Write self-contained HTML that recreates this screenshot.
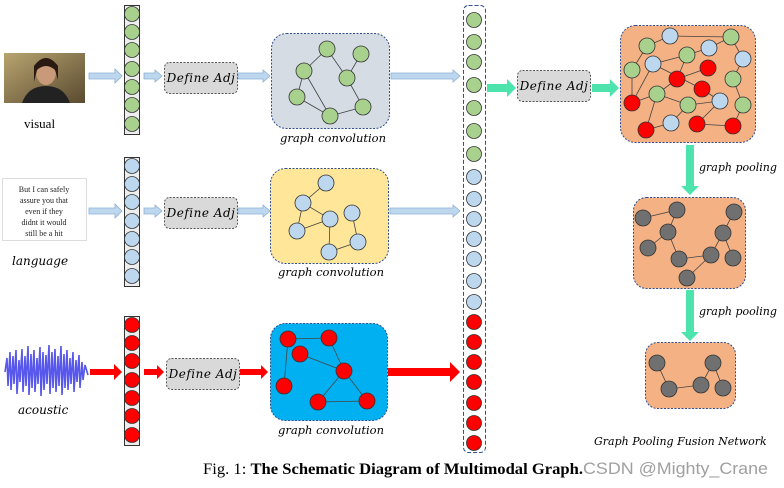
<!DOCTYPE html>
<html><head><meta charset="utf-8"><style>
html,body{margin:0;padding:0;background:#fff;}
svg{display:block}
.it{font-family:"DejaVu Serif","Liberation Serif",serif;font-style:italic;}
</style></head><body>
<svg width="784" height="488" viewBox="0 0 784 488" xmlns="http://www.w3.org/2000/svg">
<defs>
<linearGradient id="face" x1="0" y1="0" x2="1" y2="1"><stop offset="0" stop-color="#b8a470"/><stop offset="1" stop-color="#5a4a30"/></linearGradient>
</defs>
<rect x="4" y="53" width="81" height="50" fill="url(#face)"/>
<ellipse cx="46" cy="72" rx="10" ry="13" fill="#c99a7a"/>
<path d="M34 66 Q46 50 58 66 L58 80 L55 70 Q46 62 37 70 L34 82Z" fill="#2a1a12"/>
<path d="M22 103 Q28 86 46 86 Q64 86 70 103Z" fill="#222"/>
<text x="24" y="128" font-family="Liberation Serif,serif" font-size="13">visual</text>
<rect x="2.5" y="178.5" width="84" height="62" fill="#fff" stroke="#ddd"/>
<g font-family="Liberation Serif,serif" font-size="8" text-anchor="middle" fill="#222">
<text x="44" y="192">But I can safely</text><text x="44" y="203">assure you that</text><text x="44" y="214">even if they</text><text x="44" y="225">didnt it would</text><text x="44" y="236">still be a hit</text></g>
<text class="it" x="12" y="265" font-size="12">language</text>
<path d="M5 372 L7 358 L8 386 L10 352 L11 390 L13 356 L14 384 L16 350 L17 394 L19 360 L20 382 L22 349 L23 392 L25 356 L26 386 L28 346 L29 395 L31 354 L32 388 L34 350 L35 392 L37 358 L38 384 L40 347 L41 396 L43 352 L44 390 L46 355 L47 384 L49 345 L50 394 L52 352 L53 388 L55 349 L56 392 L58 356 L59 386 L61 346 L62 395 L64 354 L65 388 L67 350 L68 390 L70 358 L71 384 L73 352 L74 392 L76 360 L77 382 L79 355 L80 388 L82 362 L83 380 L85 365 L88 375" fill="none" stroke="#3a3ae8" stroke-width="1.6" opacity="0.85"/>
<text class="it" x="18" y="414" font-size="12">acoustic</text>
<g stroke="#333" stroke-width="1">
<rect x="124.5" y="5.5" width="15" height="129" fill="#eee"/>
<rect x="124.5" y="157.5" width="15" height="129" fill="#eee"/>
<rect x="124.5" y="316.5" width="15" height="129" fill="#eee"/>
</g>
<g stroke="#333" stroke-width="0.8">
<g fill="#a9d18e"><circle cx="132" cy="14" r="7.5"/><circle cx="132" cy="32" r="7.5"/><circle cx="132" cy="50" r="7.5"/><circle cx="132" cy="69" r="7.5"/><circle cx="132" cy="87" r="7.5"/><circle cx="132" cy="105" r="7.5"/><circle cx="132" cy="124" r="7.5"/></g>
<g fill="#bdd7ee"><circle cx="132" cy="166" r="7.5"/><circle cx="132" cy="184" r="7.5"/><circle cx="132" cy="202" r="7.5"/><circle cx="132" cy="221" r="7.5"/><circle cx="132" cy="239" r="7.5"/><circle cx="132" cy="257" r="7.5"/><circle cx="132" cy="276" r="7.5"/></g>
<g fill="#ff0000"><circle cx="132" cy="325" r="7.5"/><circle cx="132" cy="343" r="7.5"/><circle cx="132" cy="361" r="7.5"/><circle cx="132" cy="380" r="7.5"/><circle cx="132" cy="398" r="7.5"/><circle cx="132" cy="416" r="7.5"/><circle cx="132" cy="435" r="7.5"/></g>
</g>
<g fill="#bdd7ee" stroke="#8fb0d4" stroke-width="0.8">
<path d="M89 73 H115 V69 L122 76 L115 83 V79 H89Z"/>
<path d="M144 73 H155 V70 L162 76 L155 82 V79 H144Z"/>
<path d="M238 73 H263 V70 L270 76 L263 82 V79 H238Z"/>
<path d="M391 73 H453 V70 L460 76 L453 82 V79 H391Z"/>
<path d="M89 208 H115 V204 L122 211 L115 218 V214 H89Z"/>
<path d="M144 208 H155 V205 L162 211 L155 217 V214 H144Z"/>
<path d="M238 208 H263 V205 L270 211 L263 217 V214 H238Z"/>
<path d="M390 208 H453 V205 L460 211 L453 217 V214 H390Z"/>
</g>
<g fill="#ff0000">
<path d="M90 369 H114 V364 L122 372 L114 380 V375 H90Z"/>
<path d="M144 369 H157 V365 L164 372 L157 379 V375 H144Z"/>
<path d="M240 369 H261 V365 L268 372 L261 379 V375 H240Z"/>
<path d="M388 368 H450 V362 L460 372 L450 382 V376 H388Z"/>
</g>
<g fill="#d9d9d9" stroke="#555" stroke-width="1" stroke-dasharray="2,1.5">
<rect x="164.5" y="62.5" width="73" height="31" rx="5"/>
<rect x="164.5" y="197.5" width="73" height="31" rx="5"/>
<rect x="166.5" y="358.5" width="73" height="31" rx="5"/>
<rect x="517.5" y="70.5" width="73" height="31" rx="5"/>
</g>
<g class="it" font-size="12" text-anchor="middle" letter-spacing="0.5">
<text x="201" y="82">Define Adj</text><text x="201" y="217">Define Adj</text><text x="203" y="378">Define Adj</text><text x="554" y="90">Define Adj</text>
</g>
<g stroke="#2f4f8f" stroke-width="1" stroke-dasharray="2,1.5">
<rect x="271.5" y="33.5" width="118" height="95" rx="15" fill="#d6dce4"/>
<rect x="270.5" y="168.5" width="118" height="95" rx="15" fill="#ffe699"/>
<rect x="270.5" y="323.5" width="117" height="97" rx="15" fill="#00b0f0"/>
</g>
<g stroke="#444" stroke-width="0.8">
<path d="M304 71 L327 49 L347 78 L361 54 M347 78 L363 107 L330 116 L304 71 M297 97 L304 71 M330 116 L297 97" fill="none"/>
<path d="M326 183 L303 203 L330 219 L297 231 M330 219 L329 252 L358 242 L352 213 M303 203 L297 231" fill="none"/>
<path d="M288 339 L329 338 L344 371 L300 354 M288 339 L284 386 M344 371 L318 402 L367 401 L344 371" fill="none"/>
</g>
<g stroke="#333" stroke-width="0.8">
<g fill="#a9d18e"><circle cx="327" cy="49" r="8"/><circle cx="361" cy="54" r="8"/><circle cx="304" cy="71" r="8"/><circle cx="347" cy="78" r="8"/><circle cx="297" cy="97" r="8"/><circle cx="363" cy="107" r="8"/><circle cx="330" cy="116" r="8"/></g>
<g fill="#bdd7ee"><circle cx="326" cy="183" r="8"/><circle cx="303" cy="203" r="8"/><circle cx="330" cy="219" r="8"/><circle cx="352" cy="213" r="8"/><circle cx="297" cy="231" r="8"/><circle cx="358" cy="242" r="8"/><circle cx="329" cy="252" r="8"/></g>
<g fill="#ff0000"><circle cx="288" cy="339" r="8"/><circle cx="329" cy="338" r="8"/><circle cx="300" cy="354" r="8"/><circle cx="344" cy="371" r="8"/><circle cx="284" cy="386" r="8"/><circle cx="318" cy="402" r="8"/><circle cx="367" cy="401" r="8"/></g>
</g>
<g class="it" font-size="11.5" text-anchor="middle">
<text x="333" y="142">graph convolution</text><text x="331" y="276">graph convolution</text><text x="331" y="434">graph convolution</text>
</g>
<rect x="463.5" y="5.5" width="22" height="447" rx="5" fill="#fff" stroke="#2f4f8f" stroke-dasharray="4,2"/>
<g stroke="#333" stroke-width="0.8">
<g fill="#a9d18e"><circle cx="474" cy="20" r="7.5"/><circle cx="474" cy="42" r="7.5"/><circle cx="474" cy="62" r="7.5"/><circle cx="474" cy="85" r="7.5"/><circle cx="474" cy="108" r="7.5"/><circle cx="474" cy="131" r="7.5"/><circle cx="474" cy="154" r="7.5"/></g>
<g fill="#bdd7ee"><circle cx="474" cy="177" r="7.5"/><circle cx="474" cy="199" r="7.5"/><circle cx="474" cy="219" r="7.5"/><circle cx="474" cy="239" r="7.5"/><circle cx="474" cy="259" r="7.5"/><circle cx="474" cy="281" r="7.5"/><circle cx="474" cy="302" r="7.5"/></g>
<g fill="#ff0000"><circle cx="474" cy="322" r="7.5"/><circle cx="474" cy="342" r="7.5"/><circle cx="474" cy="362" r="7.5"/><circle cx="474" cy="382" r="7.5"/><circle cx="474" cy="403" r="7.5"/><circle cx="474" cy="423" r="7.5"/><circle cx="474" cy="443" r="7.5"/></g>
</g>
<g fill="#4de3ad">
<path d="M487 84 H507 V79 L516 88 L507 97 V92 H487Z"/>
<path d="M592 84 H610 V79 L619 88 L610 97 V92 H592Z"/>
<path d="M686 145 H694 V186 H699 L690 195 L681 186 H686Z"/>
<path d="M686 290 H694 V332 H699 L690 341 L681 332 H686Z"/>
</g>
<g class="it" font-size="11">
<text x="699" y="171">graph pooling</text><text x="699" y="315">graph pooling</text>
<text x="594" y="445">Graph Pooling Fusion Network</text>
</g>
<g fill="#f4b183" stroke="#2f4f8f" stroke-width="1" stroke-dasharray="2,1.5">
<rect x="620.5" y="25.5" width="135" height="117" rx="15"/>
<rect x="633.5" y="197.5" width="112" height="91" rx="13"/>
<rect x="645.5" y="342.5" width="90" height="66" rx="12"/>
</g>
<g stroke="#444" stroke-width="0.8" fill="none">
<path d="M647 46 L670 36 L731 37 M647 46 L632 70 L632 103 L653 64 L687 55 L709 48 L731 37 L743 59 L733 79 L743 105 L733 126 L697 124 L720 101 L688 105 L657 94 L677 79 L708 68 M657 94 L646 130 L671 123 L688 105 M632 103 L657 94 M653 64 L702 89 L720 101 M687 55 L677 79"/>
<path d="M643 218 L677 210 L668 232 L648 248 M668 232 L679 259 L711 255 L723 233 L734 212 M723 233 L733 258 M711 255 L687 278"/>
<path d="M657 363 L669 389 L701 385 L713 363 L723 388"/>
</g>
<g stroke="#333" stroke-width="0.8">
<g fill="#a9d18e"><circle cx="647" cy="46" r="8"/><circle cx="632" cy="70" r="8"/><circle cx="687" cy="55" r="8"/><circle cx="731" cy="37" r="8"/><circle cx="733" cy="79" r="8"/><circle cx="657" cy="94" r="8"/><circle cx="688" cy="105" r="8"/><circle cx="743" cy="105" r="8"/></g>
<g fill="#bdd7ee"><circle cx="670" cy="36" r="8"/><circle cx="653" cy="64" r="8"/><circle cx="709" cy="48" r="8"/><circle cx="743" cy="59" r="8"/><circle cx="720" cy="101" r="8"/><circle cx="671" cy="123" r="8"/></g>
<g fill="#ff0000"><circle cx="708" cy="68" r="8"/><circle cx="677" cy="79" r="8"/><circle cx="702" cy="89" r="8"/><circle cx="632" cy="103" r="8"/><circle cx="646" cy="130" r="8"/><circle cx="697" cy="124" r="8"/><circle cx="733" cy="126" r="8"/></g>
<g fill="#707070"><circle cx="643" cy="218" r="8"/><circle cx="677" cy="210" r="8"/><circle cx="668" cy="232" r="8"/><circle cx="648" cy="248" r="8"/><circle cx="679" cy="259" r="8"/><circle cx="711" cy="255" r="8"/><circle cx="734" cy="212" r="8"/><circle cx="723" cy="233" r="8"/><circle cx="733" cy="258" r="8"/><circle cx="687" cy="278" r="8"/>
<circle cx="657" cy="363" r="8"/><circle cx="669" cy="389" r="8"/><circle cx="701" cy="385" r="8"/><circle cx="713" cy="363" r="8"/><circle cx="723" cy="388" r="8"/></g>
</g>
<text x="203" y="474" font-family="Liberation Serif,serif" font-size="16" textLength="380" lengthAdjust="spacingAndGlyphs">Fig. 1: <tspan font-weight="bold">The Schematic Diagram of Multimodal Graph.</tspan></text>
<text x="583" y="474" font-family="Liberation Sans,sans-serif" font-size="17" fill="#a0a0a0" textLength="185" lengthAdjust="spacingAndGlyphs">CSDN @Mighty_Crane</text>
</svg>
</body></html>
